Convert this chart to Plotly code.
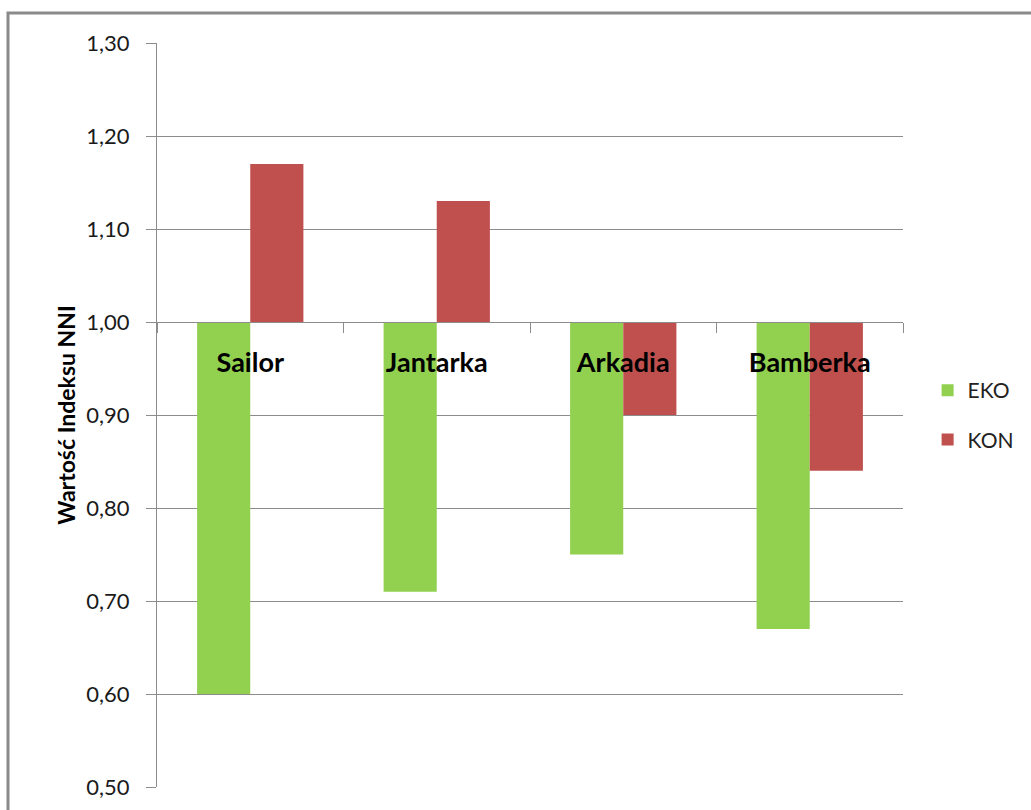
import plotly.graph_objects as go

# Odmiany i wartości indeksu NNI
categories = ["Sailor", "Jantarka", "Arkadia", "Bamberka"]
eko_values = [0.60, 0.71, 0.75, 0.67]
kon_values = [1.17, 1.13, 0.90, 0.84]
series_names = ["EKO", "KON"]
y_tick_values = [0.5, 0.6, 0.7, 0.8, 0.9, 1.0, 1.1, 1.2, 1.3]

BASE = 1.0
GREEN = "#92D050"
RED = "#C0504D"
GRID = "#8C8C8C"
FONT = "Lato, 'Open Sans', sans-serif"

fig = go.Figure()
for name, vals, color in [(series_names[0], eko_values, GREEN),
                          (series_names[1], kon_values, RED)]:
    fig.add_trace(go.Bar(
        x=categories,
        y=[v - BASE for v in vals],
        base=BASE,
        name=name,
        legendgroup=name,
        marker=dict(color=color, line=dict(width=0)),
        customdata=vals,
        hovertemplate="%{x}: %{customdata:.2f}<extra>" + name + "</extra>",
    ))

W, H = 1031, 810
L, R, T, B = 157, 128, 43, 23
y_min, y_max = 0.5, 1.3

fig.update_layout(
    width=W, height=H,
    margin=dict(l=L, r=R, t=T, b=B, pad=0, autoexpand=False),
    paper_bgcolor="white", plot_bgcolor="white",
    barmode="group", bargap=0.43, bargroupgap=0,
    separators=", ",
    font=dict(family=FONT, color="#222222"),
    showlegend=True,
    legend=dict(
        x=1.033, xanchor="left", y=0.5, yanchor="middle",
        font=dict(size=21, color="#222222"),
        tracegroupgap=19, itemwidth=30, bgcolor="rgba(0,0,0,0)",
    ),
    xaxis=dict(
        anchor="free",
        position=(BASE - y_min) / (y_max - y_min),
        showgrid=False, zeroline=False,
        showline=True, linecolor=GRID, linewidth=1,
        ticks="outside", tickson="boundaries", ticklen=10, tickcolor=GRID,
        tickfont=dict(size=27, color="black", family=FONT, weight="bold"),
        ticklabelstandoff=17,
        layer="above traces",
        automargin=False,
    ),
    yaxis=dict(
        range=[y_min, y_max],
        tickmode="array", tickvals=y_tick_values, tickformat=".2f",
        showgrid=True, gridcolor=GRID, gridwidth=1,
        zeroline=False,
        showline=True, linecolor=GRID, linewidth=1,
        ticks="outside", ticklen=10, tickcolor=GRID,
        tickfont=dict(size=22, color="#1a1a1a"),
        ticklabelstandoff=12,
        automargin=False,
        title=dict(text="<b>Wartość Indeksu NNI</b>",
                   font=dict(size=23, color="black"), standoff=4),
    ),
)

# Ramka obszaru wykresu
fig.add_shape(
    type="rect", xref="paper", yref="paper",
    x0=(8 - L) / (W - L - R), x1=1.5,
    y0=-0.2, y1=1 + (T - 13) / (H - T - B),
    line=dict(color="#8A8A8A", width=3), fillcolor="rgba(0,0,0,0)",
    layer="below",
)

fig.write_html("out.html")
